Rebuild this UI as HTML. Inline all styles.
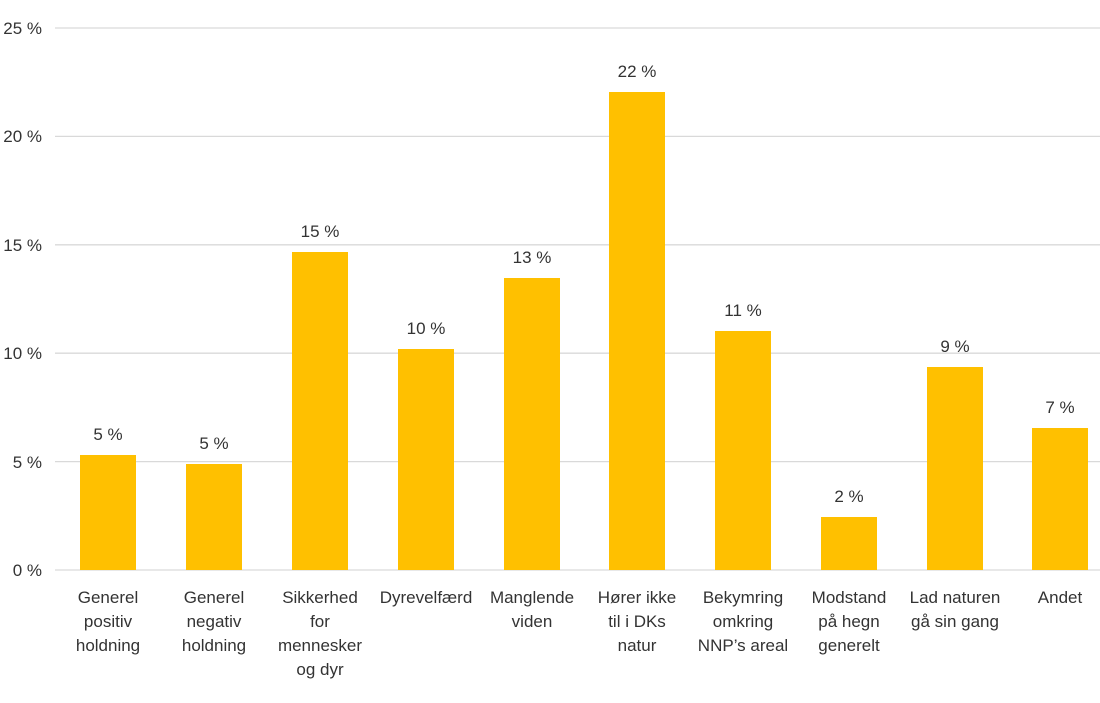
<!DOCTYPE html>
<html><head><meta charset="utf-8"><style>body{margin:0;background:#fff}</style></head><body>
<svg width="1100" height="698" xmlns="http://www.w3.org/2000/svg" font-family="Liberation Sans, sans-serif" font-size="17" fill="#333">
<g stroke="#d9d9d9" stroke-width="1.3">
<line x1="55" x2="1100" y1="28" y2="28"/><line x1="55" x2="1100" y1="136.4" y2="136.4"/><line x1="55" x2="1100" y1="244.8" y2="244.8"/><line x1="55" x2="1100" y1="353.2" y2="353.2"/><line x1="55" x2="1100" y1="461.6" y2="461.6"/><line x1="55" x2="1100" y1="570" y2="570"/>
</g>
<g text-anchor="end">
<text x="42" y="34">25 %</text><text x="42" y="142">20 %</text><text x="42" y="251">15 %</text><text x="42" y="359">10 %</text><text x="42" y="468">5 %</text><text x="42" y="576">0 %</text>
</g>
<g fill="#ffc000">
<rect x="80" y="455" width="56" height="115"/>
<rect x="186" y="464" width="56" height="106"/>
<rect x="292" y="252" width="56" height="318"/>
<rect x="398" y="349" width="56" height="221"/>
<rect x="504" y="278" width="56" height="292"/>
<rect x="609" y="92" width="56" height="478"/>
<rect x="715" y="331" width="56" height="239"/>
<rect x="821" y="517" width="56" height="53"/>
<rect x="927" y="367" width="56" height="203"/>
<rect x="1032" y="428" width="56" height="142"/>
</g>
<g text-anchor="middle">
<text x="108" y="440">5 %</text><text x="214" y="449">5 %</text><text x="320" y="237">15 %</text><text x="426" y="334">10 %</text><text x="532" y="263">13 %</text><text x="637" y="77">22 %</text><text x="743" y="316">11 %</text><text x="849" y="502">2 %</text><text x="955" y="352">9 %</text><text x="1060" y="413">7 %</text>
<text x="108" y="603">Generel</text><text x="108" y="627">positiv</text><text x="108" y="651">holdning</text>
<text x="214" y="603">Generel</text><text x="214" y="627">negativ</text><text x="214" y="651">holdning</text>
<text x="320" y="603">Sikkerhed</text><text x="320" y="627">for</text><text x="320" y="651">mennesker</text><text x="320" y="675">og dyr</text>
<text x="426" y="603">Dyrevelfærd</text>
<text x="532" y="603">Manglende</text><text x="532" y="627">viden</text>
<text x="637" y="603">Hører ikke</text><text x="637" y="627">til i DKs</text><text x="637" y="651">natur</text>
<text x="743" y="603">Bekymring</text><text x="743" y="627">omkring</text><text x="743" y="651">NNP’s areal</text>
<text x="849" y="603">Modstand</text><text x="849" y="627">på hegn</text><text x="849" y="651">generelt</text>
<text x="955" y="603">Lad naturen</text><text x="955" y="627">gå sin gang</text>
<text x="1060" y="603">Andet</text>
</g>
</svg>
</body></html>
